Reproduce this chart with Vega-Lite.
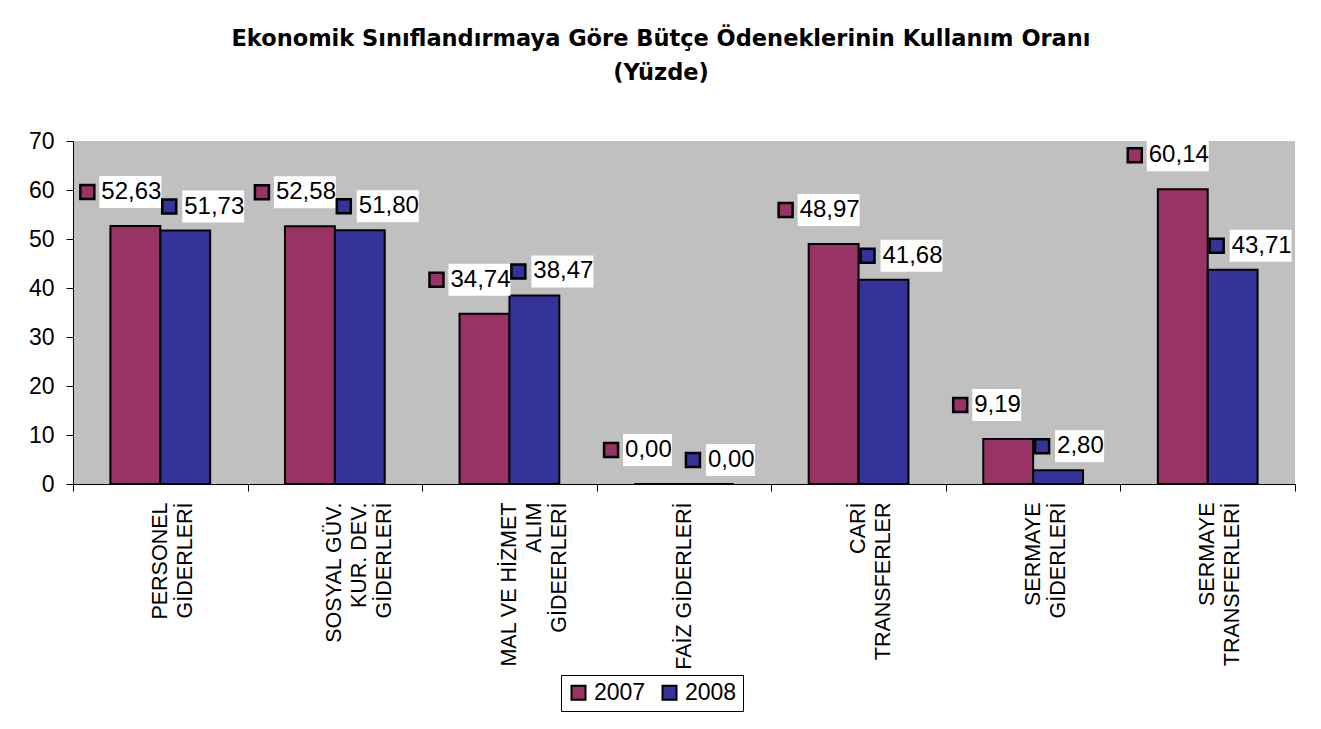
{
  "$schema": "https://vega.github.io/schema/vega-lite/v6.json",
  "autosize": "none",
  "width": 1222,
  "height": 343,
  "padding": {"left": 73, "top": 141, "right": 26, "bottom": 245},
  "background": "white",
  "config": {
    "font": "Liberation Sans",
    "view": {"fill": "#C0C0C0", "stroke": null},
    "locale": {"number": {"decimal": ",", "thousands": ".", "grouping": [3], "currency": ["", " TL"]}}
  },
  "title": {
    "text": ["Ekonomik Sınıflandırmaya Göre Bütçe Ödeneklerinin Kullanım Oranı", "(Yüzde)"],
    "font": "DejaVu Sans",
    "fontSize": 22.5,
    "fontWeight": "bold",
    "color": "black",
    "anchor": "middle",
    "dx": -23,
    "lineHeight": 34,
    "offset": 46
  },
  "data": {
    "values": [
      {"kategori": "PERSONEL\nGİDERLERİ", "yil": "2007", "deger": 52.63},
      {"kategori": "PERSONEL\nGİDERLERİ", "yil": "2008", "deger": 51.73},
      {"kategori": "SOSYAL GÜV.\nKUR. DEV.\nGİDERLERİ", "yil": "2007", "deger": 52.58},
      {"kategori": "SOSYAL GÜV.\nKUR. DEV.\nGİDERLERİ", "yil": "2008", "deger": 51.80},
      {"kategori": "MAL VE HİZMET\nALIM\nGİDEERLERİ", "yil": "2007", "deger": 34.74},
      {"kategori": "MAL VE HİZMET\nALIM\nGİDEERLERİ", "yil": "2008", "deger": 38.47},
      {"kategori": "FAİZ GİDERLERİ", "yil": "2007", "deger": 0.00},
      {"kategori": "FAİZ GİDERLERİ", "yil": "2008", "deger": 0.00},
      {"kategori": "CARİ\nTRANSFERLER", "yil": "2007", "deger": 48.97},
      {"kategori": "CARİ\nTRANSFERLER", "yil": "2008", "deger": 41.68},
      {"kategori": "SERMAYE\nGİDERLERİ", "yil": "2007", "deger": 9.19},
      {"kategori": "SERMAYE\nGİDERLERİ", "yil": "2008", "deger": 2.80},
      {"kategori": "SERMAYE\nTRANSFERLERİ", "yil": "2007", "deger": 60.14},
      {"kategori": "SERMAYE\nTRANSFERLERİ", "yil": "2008", "deger": 43.71}
    ]
  },
  "encoding": {
    "x": {
      "field": "kategori",
      "type": "nominal",
      "sort": null,
      "scale": {"paddingInner": 0, "paddingOuter": 0},
      "axis": {
        "title": null,
        "domainColor": "black",
        "domainWidth": 1,
        "tickColor": "black",
        "tickSize": 7,
        "tickBand": "extent",
        "labelAngle": 270,
        "labelAlign": "right",
        "labelBaseline": "middle",
        "labelFontSize": 21.5,
        "labelLineHeight": 25,
        "labelColor": "black",
        "labelPadding": 11,
        "labelLimit": 300,
        "labelExpr": "split(datum.label, '\\n')"
      }
    },
    "xOffset": {
      "field": "yil",
      "type": "nominal",
      "scale": {"paddingOuter": 0.75, "paddingInner": 0}
    },
    "y": {
      "field": "deger",
      "type": "quantitative",
      "scale": {"domain": [0, 70], "nice": false},
      "axis": {
        "title": null,
        "values": [0, 10, 20, 30, 40, 50, 60, 70],
        "format": "d",
        "grid": false,
        "domainColor": "black",
        "tickColor": "black",
        "tickSize": 7,
        "labelFontSize": 23,
        "labelColor": "black",
        "labelPadding": 12
      }
    }
  },
  "layer": [
    {
      "mark": {"type": "bar", "stroke": "black", "strokeWidth": 2},
      "encoding": {
        "color": {
          "field": "yil",
          "type": "nominal",
          "scale": {"domain": ["2007", "2008"], "range": ["#993366", "#333399"]},
          "legend": {
            "title": null,
            "orient": "none",
            "legendX": 488,
            "legendY": 534,
            "direction": "horizontal",
            "strokeColor": "black",
            "fillColor": "white",
            "padding": 6,
            "symbolType": "square",
            "symbolSize": 196,
            "symbolStrokeColor": "black",
            "symbolStrokeWidth": 2,
            "symbolOpacity": 1,
            "labelFontSize": 23,
            "labelColor": "black",
            "labelOffset": 4,
            "columnPadding": 12
          }
        }
      }
    },
    {
      "transform": [{"filter": "datum.yil == '2007'"}],
      "mark": {"type": "point", "filled": true, "fill": "white", "strokeWidth": 0, "opacity": 1, "size": 4},
      "encoding": {
        "shape": {"condition": {"test": "datum.deger < 10", "value": "M-36,-50H13V-18H-36Z"}, "value": "M-36,-50H26V-18H-36Z"}
      }
    },
    {
      "transform": [{"filter": "datum.yil == '2007'"}],
      "mark": {"type": "point", "filled": true, "stroke": "black", "strokeWidth": 2.5, "opacity": 1, "size": 4, "shape": "M-55,-41H-41V-27H-55Z"},
      "encoding": {
        "color": {"field": "yil", "type": "nominal", "legend": null}
      }
    },
    {
      "transform": [{"filter": "datum.yil == '2007'"}],
      "mark": {"type": "text", "align": "left", "baseline": "middle", "dx": -34, "dy": -34, "fontSize": 24, "color": "black"},
      "encoding": {
        "text": {"field": "deger", "type": "quantitative", "format": ".2f"}
      }
    },
    {
      "transform": [{"filter": "datum.yil == '2008'"}],
      "mark": {"type": "point", "filled": true, "fill": "white", "strokeWidth": 0, "opacity": 1, "size": 4},
      "encoding": {
        "shape": {"condition": {"test": "datum.deger < 10", "value": "M-3,-40H46V-8H-3Z"}, "value": "M-3,-40H59V-8H-3Z"}
      }
    },
    {
      "transform": [{"filter": "datum.yil == '2008'"}],
      "mark": {"type": "point", "filled": true, "stroke": "black", "strokeWidth": 2.5, "opacity": 1, "size": 4, "shape": "M-23,-31H-9V-17H-23Z"},
      "encoding": {
        "color": {"field": "yil", "type": "nominal", "legend": null}
      }
    },
    {
      "transform": [{"filter": "datum.yil == '2008'"}],
      "mark": {"type": "text", "align": "left", "baseline": "middle", "dx": -1, "dy": -24, "fontSize": 24, "color": "black"},
      "encoding": {
        "text": {"field": "deger", "type": "quantitative", "format": ".2f"}
      }
    }
  ]
}
